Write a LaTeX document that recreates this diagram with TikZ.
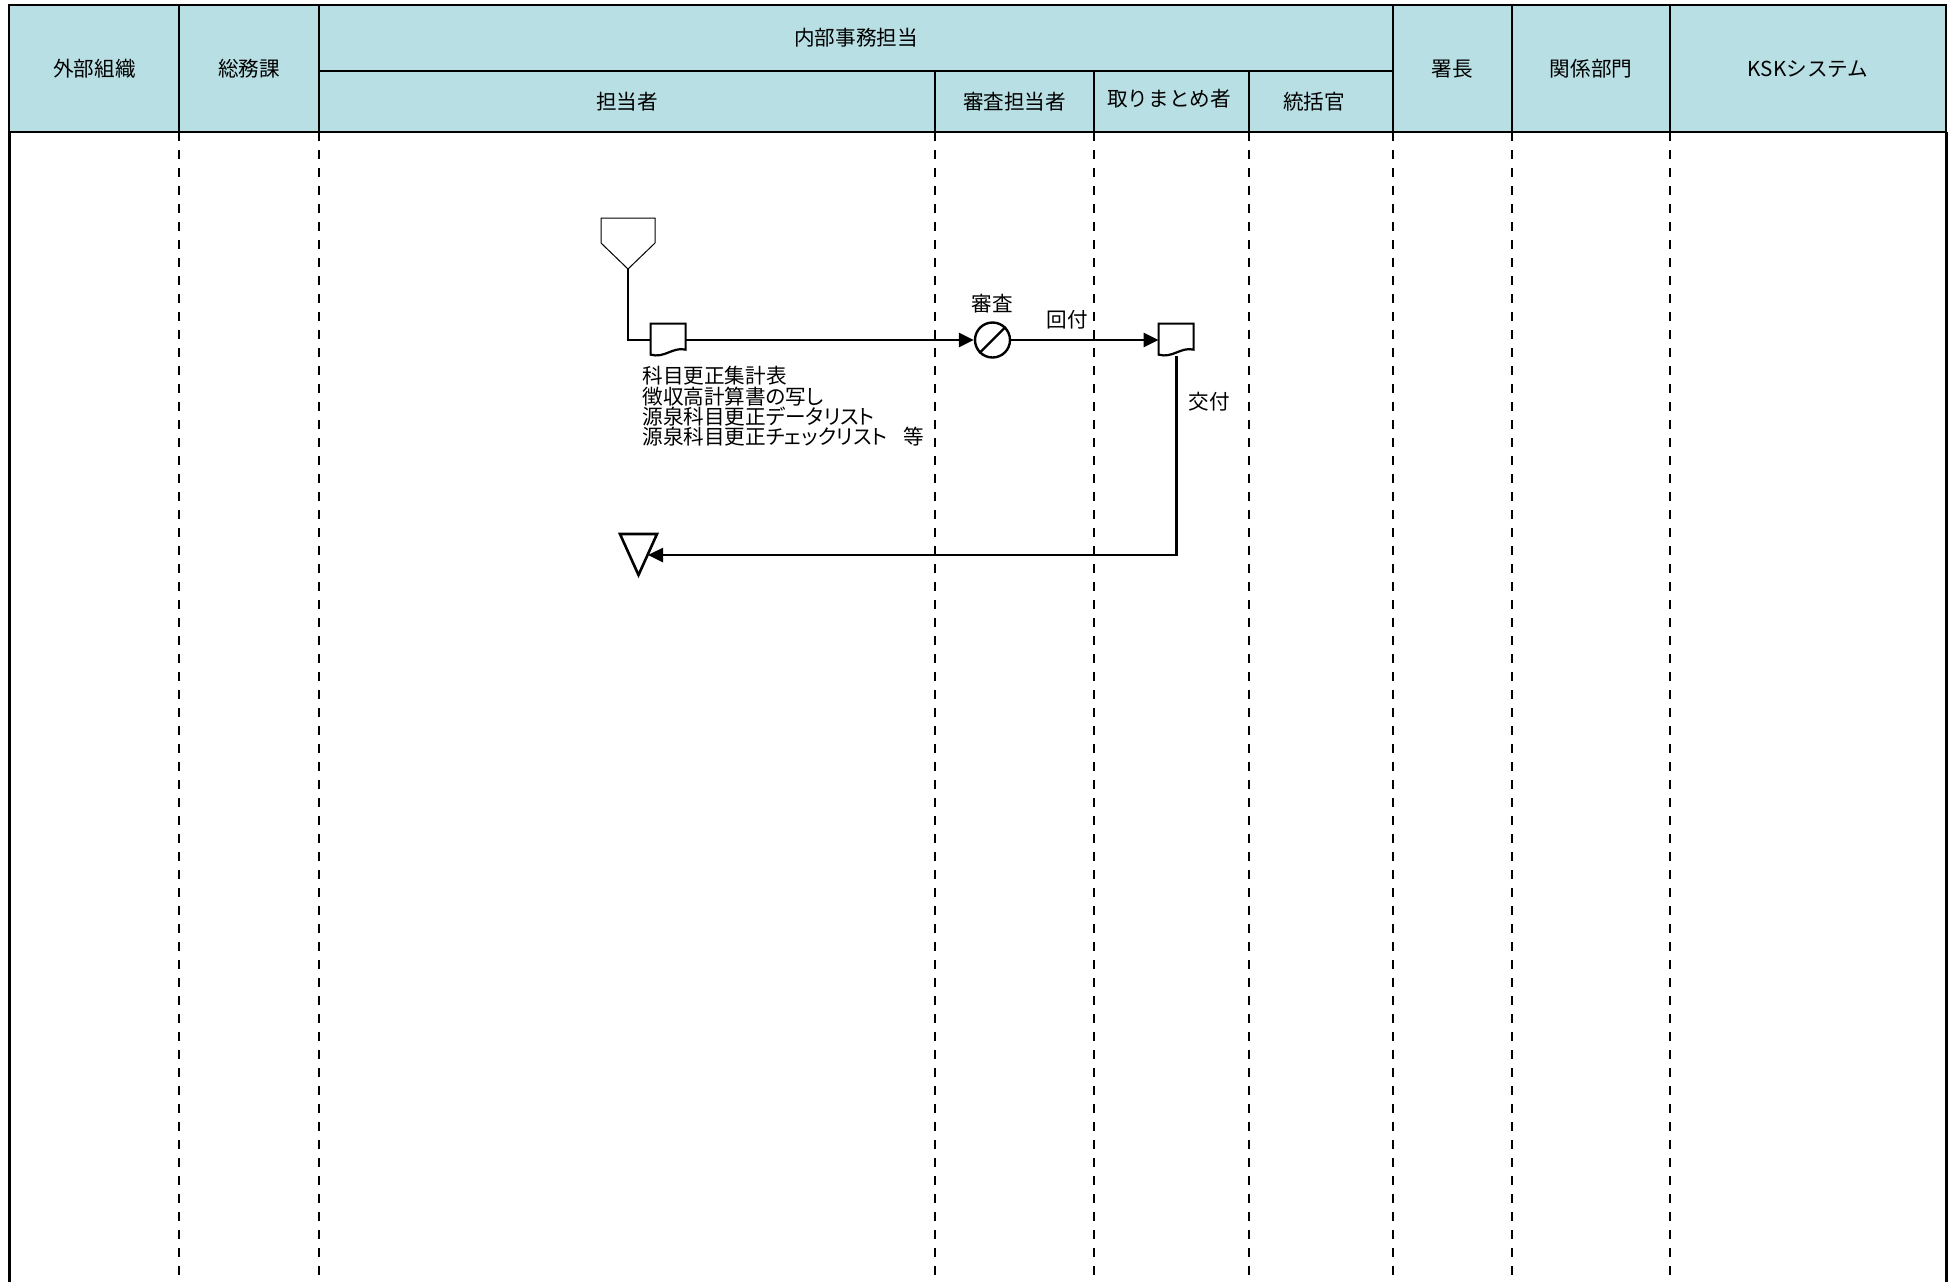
\documentclass[tikz,border=0pt]{standalone}
\usepackage{fontspec}
\setmainfont{Noto Sans CJK JP}
\newfontfamily\propjp{Noto Sans CJK JP}[RawFeature=+palt]
\usetikzlibrary{arrows.meta,positioning}
\definecolor{lanehd}{RGB}{184,223,227}

% document symbol: invisible box + outline with wavy foot
\newcommand\docsym[2]{%
  \node[docbox] (#1) at #2 {};
  \draw[docline, shift={(#1.north west)}] (0,0) -- (35,0) -- (35,26)
    .. controls (22,23) and (14,35) .. (0,31) -- cycle;}

\begin{document}
\begin{tikzpicture}[x=0.5pt, y=-0.5pt,
    hd/.style={font=\fontsize{10.3}{12}\selectfont, inner sep=0pt},
    lab/.style={font=\fontsize{10.3}{12}\selectfont, inner sep=0pt},
    hdline/.style={draw=black, line width=1.2pt},
    border/.style={draw=black, line width=1.5pt},
    lane/.style={draw=black, line width=1.1pt, dash pattern=on 4.5pt off 4.5pt},
    flow/.style={draw=black, line width=1.3pt},
    tip/.style={-{Triangle[length=7.5pt,width=7pt]}},
    docbox/.style={rectangle, draw=none, minimum width=17.5pt,
                   minimum height=16pt, inner sep=0pt},
    docline/.style={draw=black, fill=white, line width=1.1pt},
    review/.style={circle, draw=black, fill=white, line width=1.2pt,
                   minimum size=17.5pt, inner sep=0pt}]
  \useasboundingbox (0,0) rectangle (1959,1282);

  % header of the lanes
  \fill[lanehd] (9,5) rectangle (1946,132);
  \draw[hdline] (9,5) rectangle (1946,132);
  \foreach \x in {179,319,1393,1512,1670}
    \draw[hdline] (\x,5) -- (\x,132);
  \draw[hdline] (319,71) -- (1393,71);
  \foreach \x in {935,1094,1249}
    \draw[hdline] (\x,71) -- (\x,132);

  \node[hd] (gaibu)  at (94.5,69)   {外部組織};
  \node[hd] (somu)   at (249,69)    {総務課};
  \node[hd] (naibu)  at (856,38)    {内部事務担当};
  \node[hd] (tanto)  at (627,101.5) {担当者};
  \node[hd] (shinsa) at (1014.5,101.5) {審査担当者};
  \node[hd] (matome) at (1169,99)   {取りまとめ者};
  \node[hd] (tokatsu) at (1314,101.5) {統括官};
  \node[hd] (shocho) at (1452.5,69) {署長};
  \node[hd] (kankei) at (1591,69)   {関係部門};
  \node[hd] (ksk)    at (1808,69)   {KSKシステム};

  % lanes
  \draw[border] (9,132) -- (9,1282);
  \draw[border] (1946,132) -- (1946,1282);
  \foreach \x in {179,319,935,1094,1249,1393,1512,1670}
    \draw[lane] (\x,132) -- (\x,1282);

  % start and end marks
  \draw[draw=black, line width=0.5pt] (601,218) -- (655,218) -- (655,243)
    -- (628,269) -- (601,243) -- cycle;
  \coordinate (start) at (628,269);
  \draw[draw=black, line width=1.3pt] (620,534) -- (657,534)
    -- (638.5,575) -- cycle;
  \coordinate (stopin) at (648,555);

  % flow
  \docsym{d1}{(668.5,340)}
  \node[review] (rev) at (992.5,340) {};
  \draw[line width=1.2pt] (rev.225) -- (rev.45);
  \docsym{d2}{(1176.5,340)}

  \draw[flow] (start) |- (d1.west);
  \draw[flow, tip] (d1.east) -- (rev.west);
  \draw[flow, tip] (rev.east) -- (d2.west)
    node[lab, pos=0.38, above=5pt] {回付};
  \draw[flow, tip] (d2.south) |- (stopin)
    node[lab, pos=0.115, right=5.5pt] {交付};
  \node[lab, above=4pt of rev] (revlab) {審査};

  \node[lab, font=\propjp\fontsize{10.3}{10.2}\selectfont, align=left,
        anchor=north west] (docs) at (642,366)
    {科目更正集計表\\徴収高計算書の写し\\源泉科目更正データリスト\\源泉科目更正チェックリスト\hspace{8pt}等};
\end{tikzpicture}
\end{document}
